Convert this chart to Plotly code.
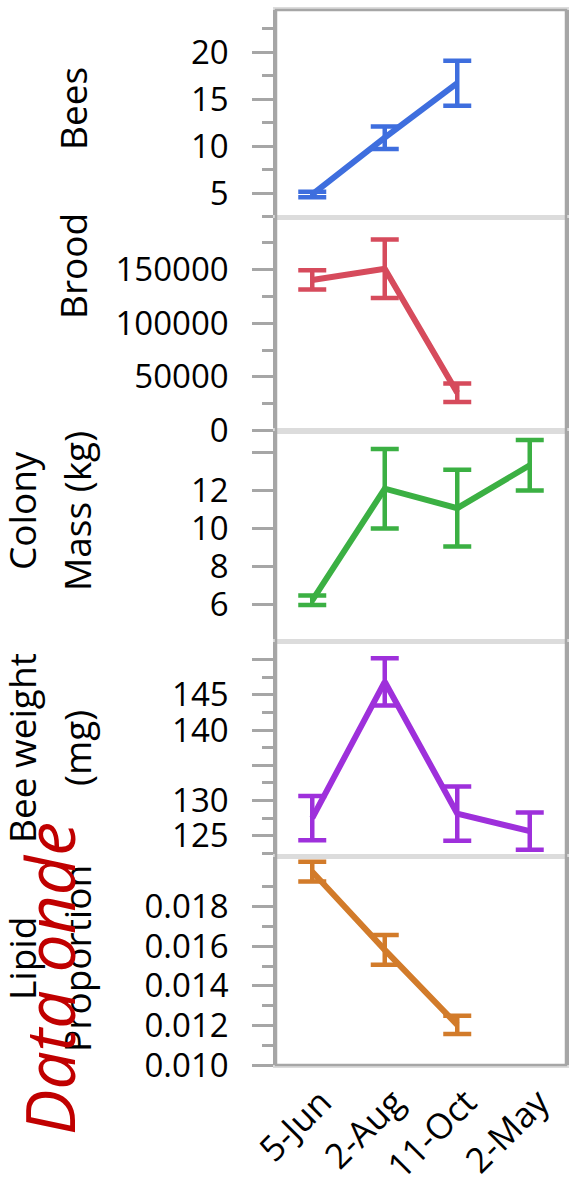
import plotly.graph_objects as go

# ---------------- data ----------------
dates = ["5-Jun", "2-Aug", "11-Oct", "2-May"]

bees_mean = [4.85, 10.9, 16.7]
bees_err = [0.3, 1.2, 2.4]

brood_mean = [140300, 150750, 35100]
brood_err = [9000, 27250, 8600]

mass_mean = [6.2, 12.1, 11.07, 13.34]
mass_err = [0.25, 2.1, 2.03, 1.34]

weight_mean = [127.5, 146.85, 128.15, 125.65]
weight_err = [3.15, 3.35, 3.85, 2.65]

lipid_mean = [0.01977, 0.01582, 0.01203]
lipid_err = [0.0005, 0.00075, 0.00046]

bees_ticks = [5, 10, 15, 20]
bees_minor = [2.5, 7.5, 12.5, 17.5, 22.5]
brood_ticks = [0, 50000, 100000, 150000]
brood_minor = [25000, 75000, 125000, 175000]
mass_ticks = [6, 8, 10, 12, 14]
mass_labels = ["6", "8", "10", "12", ""]
weight_ticks = [125, 130, 135, 140, 145, 150]
weight_labels = ["125", "130", "", "140", "145", ""]
weight_minor = [122.5, 127.5, 132.5, 137.5, 142.5, 147.5]
lipid_ticks = [0.010, 0.012, 0.014, 0.016, 0.018]
lipid_labels = ["0.010", "0.012", "0.014", "0.016", "0.018"]
lipid_minor = [0.011, 0.013, 0.015, 0.017, 0.019]

# ---------------- layout geometry ----------------
W, H = 576, 1182
L, R, T, B = 276, 10, 10, 117
PW, PH = W - L - R, H - T - B


def px_x(px):
    return (px - L) / PW


def px_y(py):
    return (H - B - py) / PH


panel_px = [(10, 216.5), (217.5, 430.5), (431, 641), (642, 855.5), (856.5, 1065)]
ranges = [[2.5, 24.5], [0, 198500], [4.05, 15.15], [122.2, 152.5], [0.010, 0.02054]]

series = [
    (bees_mean, bees_err, "#3E6EDE"),
    (brood_mean, brood_err, "#D64B5C"),
    (mass_mean, mass_err, "#3BB043"),
    (weight_mean, weight_err, "#9E30DB"),
    (lipid_mean, lipid_err, "#D27B2A"),
]
ticks = [
    (bees_ticks, [str(v) for v in bees_ticks], bees_minor),
    (brood_ticks, [str(v) for v in brood_ticks], brood_minor),
    (mass_ticks, mass_labels, None),
    (weight_ticks, weight_labels, weight_minor),
    (lipid_ticks, lipid_labels, lipid_minor),
]

FONT = "Open Sans"
DARK = "#A6A6A6"
LIGHT = "#DCDCDC"

fig = go.Figure()
layout = dict(
    width=W, height=H,
    margin=dict(l=L, r=R, t=T, b=B, pad=0, autoexpand=False),
    paper_bgcolor="white", plot_bgcolor="white",
    showlegend=False,
    font=dict(family=FONT, color="black"),
)

for i, ((mean, err, color), (tv, tt, minor), (p0, p1), rng) in enumerate(
        zip(series, ticks, panel_px, ranges)):
    n = i + 1
    xa = "x" if n == 1 else f"x{n}"
    ya = "y" if n == 1 else f"y{n}"
    fig.add_trace(go.Scatter(
        x=dates[:len(mean)], y=mean, mode="lines",
        line=dict(color=color, width=6),
        error_y=dict(type="data", array=err, visible=True, color=color,
                     thickness=4.5, width=14),
        xaxis=xa, yaxis=ya, hoverinfo="skip",
    ))
    xkey = "xaxis" if n == 1 else f"xaxis{n}"
    ykey = "yaxis" if n == 1 else f"yaxis{n}"
    layout[xkey] = dict(
        type="category", categoryorder="array", categoryarray=dates,
        range=[-0.5, 3.5], domain=[0, 1], anchor=ya, automargin=False,
        showline=True, mirror=True, linecolor=LIGHT, linewidth=2.5,
        showgrid=False, zeroline=False, ticks="",
        showticklabels=(n == 5), tickangle=-45, ticklabelshift=9,
        tickfont=dict(size=35, family=FONT, color="black"),
        **({} if n == 1 else dict(matches="x")),
    )
    ydict = dict(
        domain=[px_y(p1), px_y(p0)], range=rng, anchor=xa, automargin=False,
        showline=True, mirror=True, linecolor=DARK, linewidth=2.5,
        showgrid=False, zeroline=False,
        tickmode="array", tickvals=tv, ticktext=tt,
        ticks="outside", ticklen=21, tickwidth=2.5, tickcolor=DARK,
        ticklabelstandoff=17,
        tickfont=dict(size=33, family=FONT, color="black"),
    )
    if minor:
        ydict["minor"] = dict(tickmode="array", tickvals=minor, ticks="outside",
                              ticklen=11, tickwidth=2.5, tickcolor=DARK,
                              showgrid=False)
    layout[ykey] = ydict

fig.update_layout(**layout)

# outer dark frame (top of first panel, bottom of last panel)
fig.add_shape(type="rect", xref="paper", yref="paper", x0=0, x1=1, y0=0, y1=1,
              line=dict(color=DARK, width=2.5), layer="above")

# axis titles
titles = [
    ("Bees", 73, 109), ("Brood", 73, 266),
    ("Colony", 21, 511), ("Mass (kg)", 76, 511),
    ("Bee weight", 21, 748), ("(mg)", 76, 748),
    ("Lipid", 21, 959), ("Proportion", 76, 959),
]
for text, xp, yp in titles:
    fig.add_annotation(text=text, x=px_x(xp), y=px_y(yp), xref="paper", yref="paper",
                       showarrow=False, textangle=-90, xanchor="center", yanchor="middle",
                       font=dict(size=37, family=FONT, color="black"))

# watermark
fig.add_annotation(text="<i>Data onde</i>", x=px_x(48), y=px_y(979), xref="paper", yref="paper",
                   showarrow=False, textangle=-90, xanchor="center", yanchor="middle",
                   font=dict(size=68, family=FONT, color="#C00000"))

fig.write_html("out.html")
